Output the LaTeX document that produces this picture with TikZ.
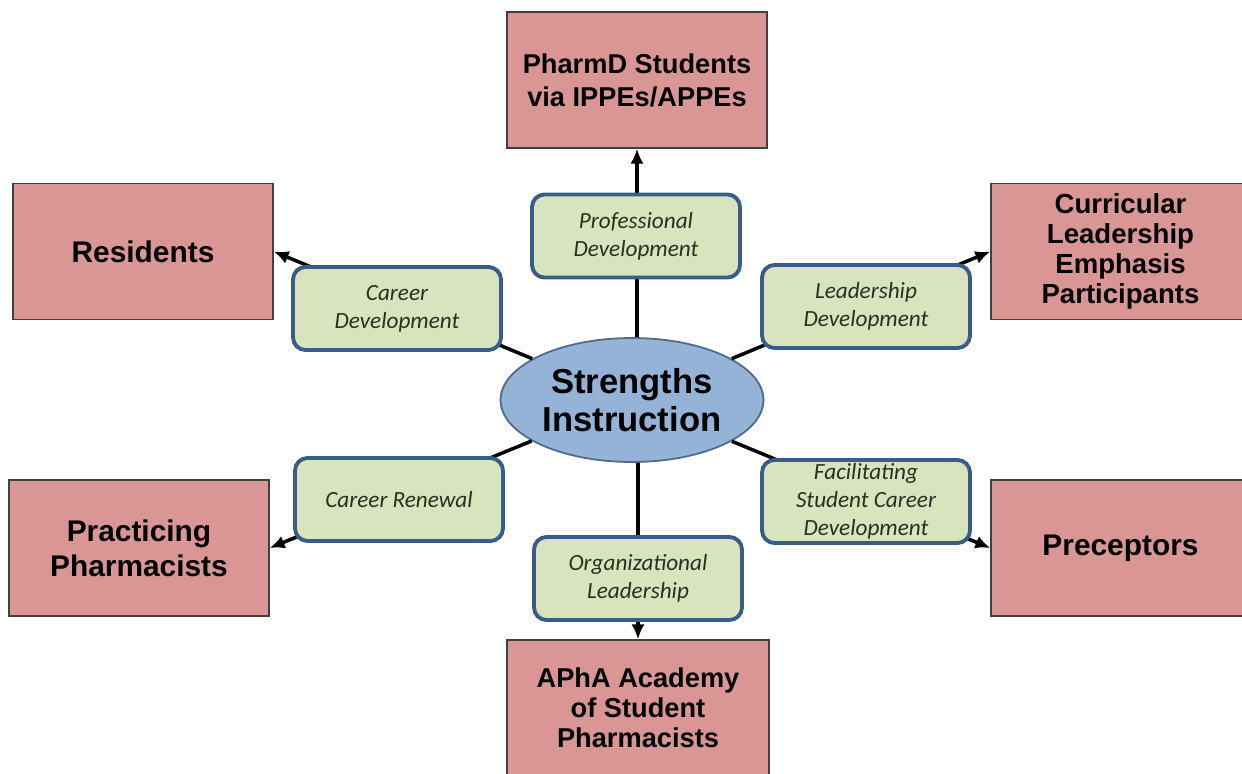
\documentclass[tikz,border=0pt]{standalone}
\usepackage{fontspec}
\setmainfont{Liberation Sans}
\newfontfamily\calibri{Carlito}
\usetikzlibrary{arrows.meta,shapes.geometric,positioning}

\definecolor{boxpink}{RGB}{217,150,148}
\definecolor{boxgreen}{RGB}{215,228,189}
\definecolor{edgeblue}{RGB}{56,93,138}
\definecolor{ellblue}{RGB}{149,179,215}
\definecolor{elledge}{RGB}{79,105,140}
\definecolor{topictext}{RGB}{40,48,32}

\begin{document}
\begin{tikzpicture}[
    % GLOBAL CFG (one unit = one pixel of the page)
    x=0.02cm, y=-0.02cm,
    >={Latex[length=8.5pt,width=7.5pt]},
    % Styles
    target/.style={% For the pink audience boxes
        rectangle,
        draw=black!75,
        line width=0.8pt,
        fill=boxpink,
        minimum width=5.2cm,
        minimum height=2.72cm,
        align=center,
        font=\fontsize{15.5}{17}\selectfont\bfseries,
        },
    sidetarget/.style={% Left and right boxes with larger text
        target,
        font=\fontsize{17}{19.8}\selectfont\bfseries,
        },
    topic/.style={% For the green development boxes
        rectangle,
        rounded corners=2.5mm,
        draw=edgeblue,
        line width=2.2pt,
        fill=boxgreen,
        minimum width=4.16cm,
        minimum height=1.66cm,
        inner ysep=0pt,
        align=center,
        text=topictext,
        font=\calibri\itshape\fontsize{13.2}{16}\selectfont,
        },
    hub/.style={% For the centre ellipse
        ellipse,
        draw=elledge,
        line width=1pt,
        fill=ellblue,
        minimum width=5.26cm,
        minimum height=2.48cm,
        inner sep=0pt,
        align=center,
        font=\fontsize{19.7}{21.5}\selectfont\bfseries,
        },
    link/.style={% Connectors
        ->,
        line width=2pt,
        },
    ]

    \clip (0,0) rectangle (1242,774);

    % Centre
    \node [hub] (ctr) at (632,400) {Strengths\\Instruction};

    % Audiences
    \node [target, font=\fontsize{15.5}{18.7}\selectfont\bfseries] (phd) at (637,80) {PharmD Students\\via IPPEs/APPEs};
    \node [sidetarget] (res) at (143,251.5) {Residents};
    \node [target, minimum width=5.18cm, font=\fontsize{15.7}{17}\selectfont\bfseries] (cur) at (1120.5,251.5) {Curricular\\Leadership\\Emphasis\\Participants};
    \node [sidetarget] (prac) at (139,548) {Practicing\\Pharmacists};
    \node [sidetarget, minimum width=5.18cm] (prec) at (1120.5,548) {Preceptors};
    \node [target, minimum width=5.24cm] (apha) at (638,708) {APhA Academy\\of Student\\Pharmacists};

    % Connectors (drawn before the green boxes)
    \draw [link] (ctr.north -| phd) -- (phd);
    \draw [link] (ctr) -- (res.east);
    \draw [link] (ctr) -- (cur.west);
    \draw [link] (ctr) -- (prac.east);
    \draw [link] (ctr) -- (prec.west);
    \draw [link] (ctr.south -| apha) -- (apha);

    % Development topics
    \node [topic] (prof) at (636,236) {Professional\\Development};
    \node [topic] (car) at (397,308.5) {Career\\Development};
    \node [topic] (lead) at (866,306.5) {Leadership\\Development};
    \node [topic] (renew) at (399,499.5) {Career Renewal};
    \node [topic] (facil) at (866,501.5) {Facilitating\\Student Career\\Development};
    \node [topic] (org) at (638,578.5) {Organizational\\Leadership};

\end{tikzpicture}
\end{document}
